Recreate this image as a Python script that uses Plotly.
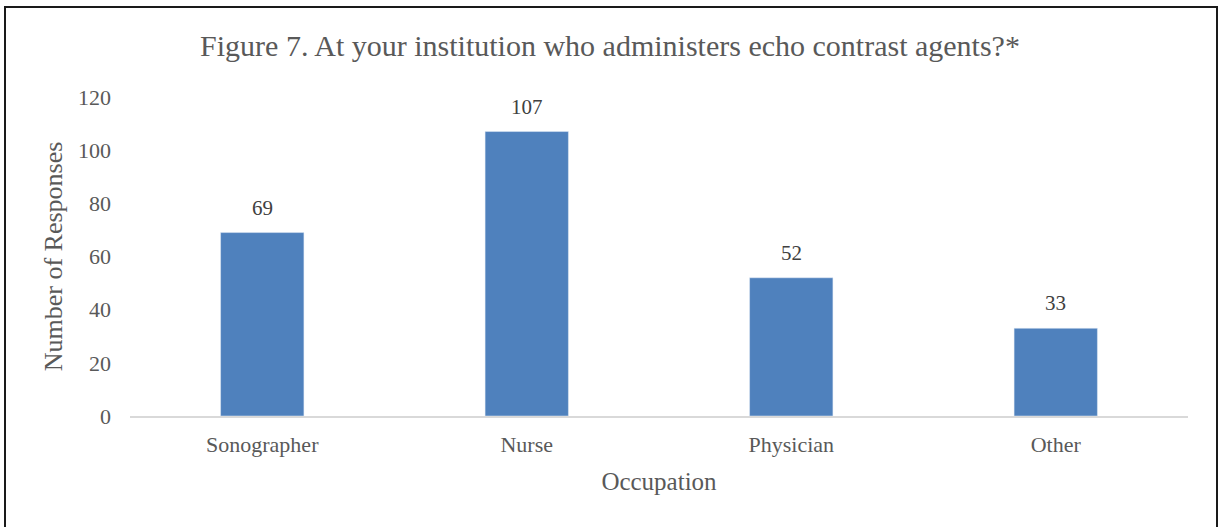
import plotly.graph_objects as go

categories = ["Sonographer", "Nurse", "Physician", "Other"]
responses = [69, 107, 52, 33]
y_ticks = [0, 20, 40, 60, 80, 100, 120]

W, H = 1220, 527
L, R, T, B = 130, 32, 97, 111
pw = W - L - R
ph = H - T - B

def px_x(x):
    return (x - L) / pw

def px_y(y):
    return (H - B - y) / ph

font_family = "Liberation Serif, DejaVu Serif, serif"
gray = "#595959"

fig = go.Figure(go.Bar(
    x=categories, y=responses,
    marker_color="#4F81BD",
    hoverinfo="x+y",
))

annotations = [
    dict(x=c, y=v, xref="x", yref="y", text=str(v), showarrow=False,
         yanchor="bottom", yshift=11,
         font=dict(family=font_family, size=21, color="#404040"))
    for c, v in zip(categories, responses)
]

fig.update_layout(
    width=W, height=H,
    margin=dict(l=L, r=R, t=T, b=B),
    paper_bgcolor="white", plot_bgcolor="white",
    bargap=0.685,
    showlegend=False,
    annotations=annotations,
    title=dict(text="Figure 7. At your institution who administers echo contrast agents?*",
               x=0.5, xanchor="center", y=1 - 45 / H, yanchor="middle",
               font=dict(family=font_family, size=30, color=gray)),
    xaxis=dict(
        title=dict(text="Occupation", font=dict(family=font_family, size=25, color=gray), standoff=16),
        tickfont=dict(family=font_family, size=22, color=gray),
        showline=True, linecolor="#D9D9D9", linewidth=2,
        ticks="", showgrid=False, ticklabelstandoff=8,
    ),
    yaxis=dict(
        title=dict(text="Number of Responses", font=dict(family=font_family, size=26, color=gray), standoff=7),
        tickfont=dict(family=font_family, size=22, color=gray),
        range=[0, 120], tickvals=y_ticks,
        showgrid=False, zeroline=False, showline=False, ticks="",
        ticklabelstandoff=18,
    ),
    shapes=[dict(type="rect", xref="paper", yref="paper",
                 x0=px_x(5), x1=px_x(1217), y0=px_y(530), y1=px_y(7),
                 line=dict(color="#1a1a1a", width=2), fillcolor="rgba(0,0,0,0)", layer="above")],
)

fig.write_html("out.html", config={"displayModeBar": False},
               post_script="document.body.style.margin='0';document.body.style.padding='0';")
